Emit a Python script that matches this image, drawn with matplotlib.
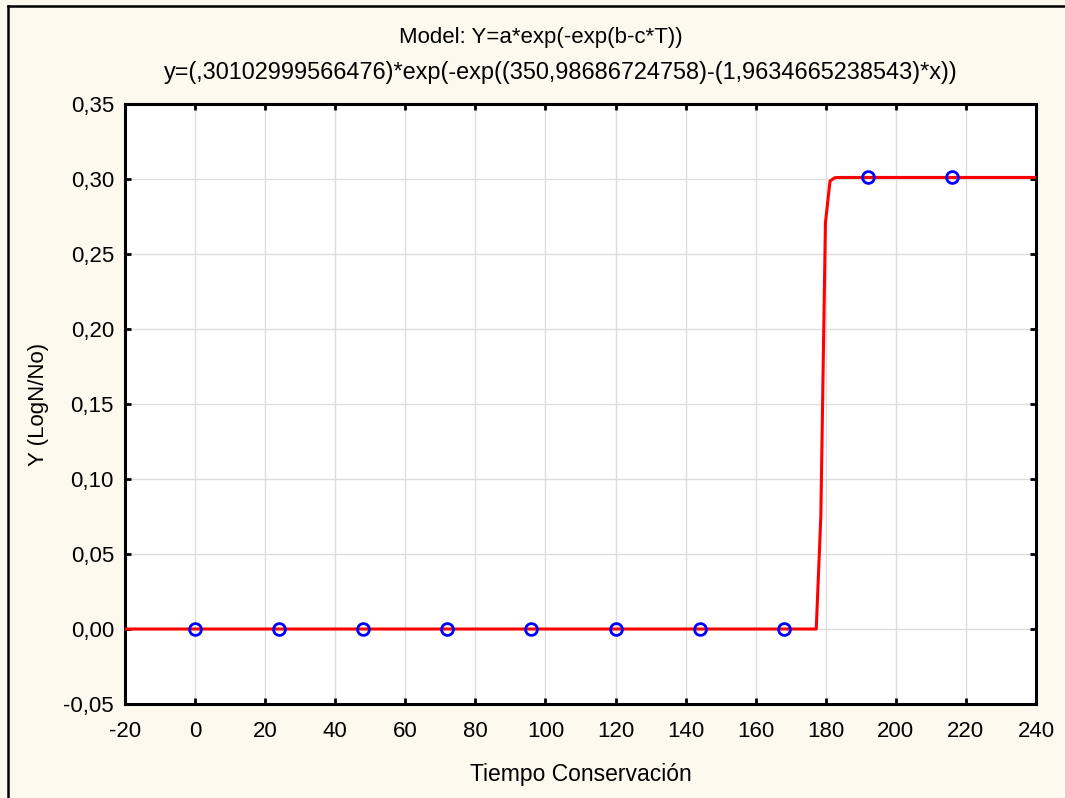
import numpy as np
import matplotlib
matplotlib.use("Agg")
import matplotlib.pyplot as plt
from matplotlib.lines import Line2D

# ============================== Data

tiempo = [0, 24, 48, 72, 96, 120, 144, 168, 192, 216]
log_n_no = [0.0, 0.0, 0.0, 0.0, 0.0, 0.0, 0.0, 0.0, 0.30103, 0.30103]

# parametres du modele (Gompertz) affiches dans le titre
A = 0.30102999566476
B = 350.98686724758
C = 1.9634665238543

x_ticks = [-20, 0, 20, 40, 60, 80, 100, 120, 140, 160, 180, 200, 220, 240]
y_ticks = [-0.05, 0.0, 0.05, 0.10, 0.15, 0.20, 0.25, 0.30, 0.35]
y_tick_labels = ["-0,05", "0,00", "0,05", "0,10", "0,15", "0,20", "0,25", "0,30", "0,35"]

title1 = "Model: Y=a*exp(-exp(b-c*T))"
title2 = "y=(,30102999566476)*exp(-exp((350,98686724758)-(1,9634665238543)*x))"

# ============================== Plot

plt.rcParams["font.family"] = ["Liberation Sans", "DejaVu Sans"]
BG = "#fdf9ef"
FS = 16

fig = plt.figure(figsize=(10.65, 7.98), dpi=100, facecolor=BG)
W, H = 1065, 798
ax = fig.add_axes([125 / W, 1 - 704 / H, (1036 - 125) / W, (704 - 104) / H])
ax.set_facecolor("white")

# courbe du modele, echantillonnee comme STATISTICA
xs = np.linspace(-20, 240, 200)
ys = A * np.exp(-np.exp(B - C * xs))
ax.plot(xs, ys, color="red", lw=2.2, zorder=3)
ax.plot(tiempo, log_n_no, "o", mfc="none", mec="blue", mew=2.0, ms=8.5, zorder=4)

ax.set_xlim(-20, 240)
ax.set_ylim(-0.05, 0.35)
ax.set_xticks(x_ticks)
ax.set_xticklabels([str(v) for v in x_ticks])
ax.set_yticks(y_ticks)
ax.set_yticklabels(y_tick_labels)
ax.grid(True, color="#dddddd", lw=1.0)
ax.set_axisbelow(True)

for s in ax.spines.values():
    s.set_linewidth(2.2)
    s.set_color("black")

ax.tick_params(axis="x", which="both", direction="in", top=True, bottom=True,
               length=4, width=2.0, labelsize=FS, pad=12)
ax.tick_params(axis="y", which="both", direction="in", left=True, right=True,
               length=4, width=2.0, labelsize=FS, pad=8)

ax.set_xlabel("Tiempo Conservación", fontsize=FS + 0.5, labelpad=15)
ax.set_ylabel("Y (LogN/No)", fontsize=FS, labelpad=10)

fig.text(541 / W, 1 - 38 / H, title1, ha="center", va="center", fontsize=FS)
fig.text(561 / W, 1 - 72 / H, title2, ha="center", va="center", fontsize=FS + 0.9)

# cadre exterieur (coupe a droite et en bas)
fig.add_artist(Line2D([8 / W, 8 / W], [0, 1 - 6 / H], color="black", lw=1.8))
fig.add_artist(Line2D([8 / W, 1], [1 - 6 / H, 1 - 6 / H], color="black", lw=1.8))

fig.savefig("out.png", dpi=100, facecolor=BG)
